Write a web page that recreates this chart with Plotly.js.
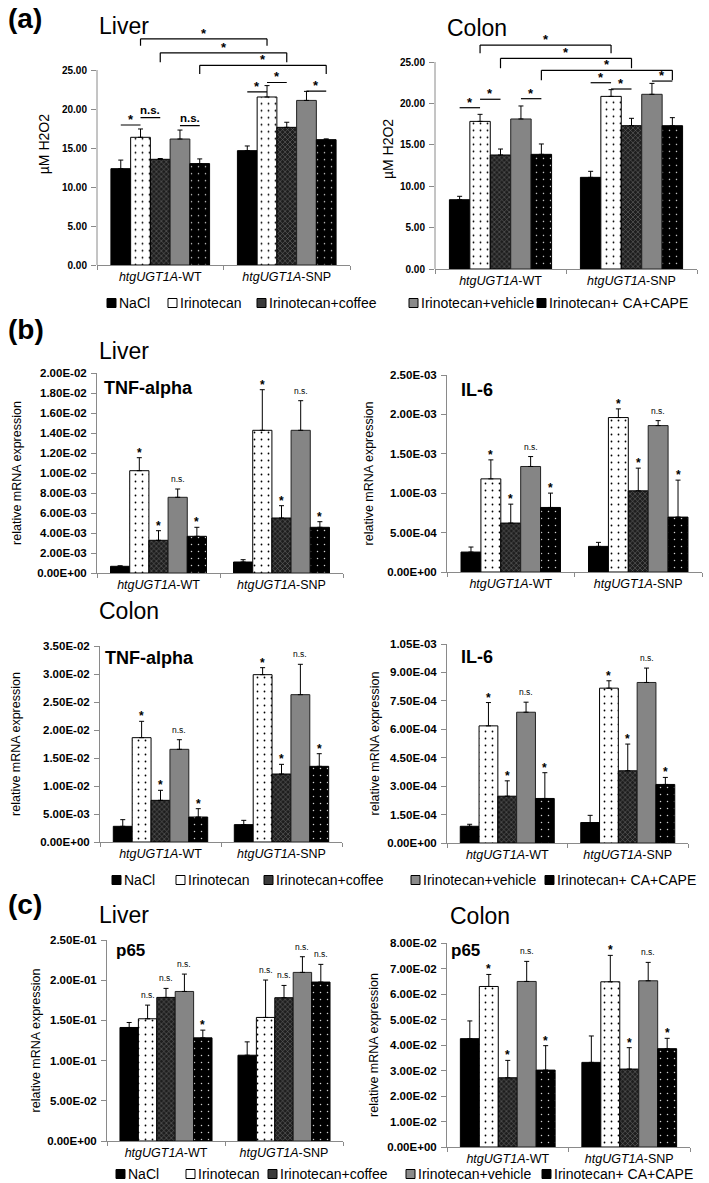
<!DOCTYPE html>
<html><head><meta charset="utf-8">
<script src="https://cdn.plot.ly/plotly-3.0.1.min.js"></script>
<style>body{margin:0;background:#fff}#chart{width:709px;height:1183px}</style>
</head><body><div id="chart"></div>
<script>
// ---------------- data ----------------
const groups = ['<i>htgUGT1A</i>-WT', '<i>htgUGT1A</i>-SNP'];
const treatments = ['NaCl', 'Irinotecan', 'Irinotecan+coffee', 'Irinotecan+vehicle', 'Irinotecan+ CA+CAPE'];

// (a) H2O2 (µM), per treatment: [WT, SNP]
const h2o2LiverMean = [[12.35, 14.66], [16.37, 21.54], [13.55, 17.65], [16.15, 21.10], [13.00, 16.07]];
const h2o2LiverErr  = [[1.10, 0.60], [1.07, 1.46], [0.10, 0.65], [1.15, 1.16], [0.60, 0.10]];
const h2o2ColonMean = [[8.37, 11.07], [17.83, 20.85], [13.77, 17.31], [18.12, 21.10], [13.85, 17.31]];
const h2o2ColonErr  = [[0.41, 0.73], [0.85, 0.81], [0.72, 0.89], [1.57, 1.32], [1.25, 0.97]];

// (b) relative mRNA expression
const tnfLiverMean = [[0.00067, 0.00110], [0.01023, 0.01427], [0.00327, 0.00550], [0.00757, 0.01427], [0.00367, 0.00457]];
const tnfLiverErr  = [[0.00005, 0.00023], [0.00130, 0.00406], [0.00096, 0.00123], [0.00083, 0.00296], [0.00090, 0.00056]];
const il6LiverMean = [[0.000253, 0.000325], [0.001182, 0.001960], [0.000621, 0.001030], [0.001339, 0.001858], [0.000819, 0.000697]];
const il6LiverErr  = [[0.000064, 0.000051], [0.000241, 0.000110], [0.000240, 0.000288], [0.000126, 0.000063], [0.000182, 0.000469]];
const tnfColonMean = [[0.00280, 0.00310], [0.01863, 0.02988], [0.00744, 0.01214], [0.01655, 0.02631], [0.00446, 0.01351]];
const tnfColonErr  = [[0.00119, 0.00077], [0.00292, 0.00125], [0.00179, 0.00173], [0.00172, 0.00542], [0.00149, 0.00226]];
const il6ColonMean = [[0.0000882, 0.000108], [0.000618, 0.000817], [0.000247, 0.000381], [0.000690, 0.000847], [0.000235, 0.000309]];
const il6ColonErr  = [[0.0000106, 0.000038], [0.000123, 0.000039], [0.000081, 0.000141], [0.000053, 0.000076], [0.000136, 0.000037]];

// (c) p65
const p65LiverMean = [[0.1412, 0.1067], [0.1520, 0.1537], [0.1786, 0.1782], [0.1860, 0.2097], [0.1283, 0.1977]];
const p65LiverErr  = [[0.0062, 0.0166], [0.0170, 0.0465], [0.0112, 0.0153], [0.0216, 0.0195], [0.0096, 0.0220]];
const p65ColonMean = [[0.04249, 0.03318], [0.06295, 0.06479], [0.02715, 0.03056], [0.06492, 0.06518], [0.03016, 0.03856]];
const p65ColonErr  = [[0.00695, 0.01036], [0.00472, 0.01036], [0.00682, 0.00839], [0.00787, 0.00722], [0.00958, 0.00406]];

// significance labels above bars, per treatment: [WT, SNP]
const sigCytokine = [['', ''], ['*', '*'], ['*', '*'], ['n.s.', 'n.s.'], ['*', '*']];
const sigP65Liver = [['', ''], ['n.s.', 'n.s.'], ['n.s.', 'n.s.'], ['n.s.', 'n.s.'], ['*', 'n.s.']];
const sigP65Colon = [['', ''], ['*', '*'], ['*', '*'], ['n.s.', 'n.s.'], ['*', '*']];

// tick values
const h2o2Ticks     = [0, 5, 10, 15, 20, 25];
const tnfLiverTicks = [0, 0.002, 0.004, 0.006, 0.008, 0.010, 0.012, 0.014, 0.016, 0.018, 0.020];
const il6LiverTicks = [0, 0.0005, 0.0010, 0.0015, 0.0020, 0.0025];
const tnfColonTicks = [0, 0.005, 0.010, 0.015, 0.020, 0.025, 0.030, 0.035];
const il6ColonTicks = [0, 0.00015, 0.00030, 0.00045, 0.00060, 0.00075, 0.00090, 0.00105];
const p65LiverTicks = [0, 0.05, 0.10, 0.15, 0.20, 0.25];
const p65ColonTicks = [0, 0.01, 0.02, 0.03, 0.04, 0.05, 0.06, 0.07, 0.08];

// pairwise comparisons in (a): [treatmentA, treatmentB, group, label]
const h2o2LiverPairs = [[0, 1, 0, '*'], [1, 2, 0, 'n.s.'], [3, 4, 0, 'n.s.'], [0, 1, 1, '*'], [1, 2, 1, '*'], [3, 4, 1, '*']];
const h2o2ColonPairs = [[0, 1, 0, '*'], [1, 2, 0, '*'], [3, 4, 0, '*'], [0, 1, 1, '*'], [1, 2, 1, '*'], [3, 4, 1, '*']];
// WT vs SNP comparisons in (a): treatment index
const h2o2Brackets = [1, 2, 4];

// ---------------- layout helpers ----------------
const FONT = 'Liberation Sans, Arial, Helvetica, sans-serif';
const W = 709, H = 1183;
const BARGAP = 0.22;
const BW = (1 - BARGAP) / 5;
const px = x => x / W;
const py = y => 1 - y / H;
const barX = (s, g) => g + (s - 2) * BW;

function sci(v) {
  if (v === 0) return '0.00E+00';
  const parts = v.toExponential(2).split('e');
  const e = parseInt(parts[1], 10);
  const d = Math.abs(e);
  return parts[0] + 'E' + (e < 0 ? '-' : '+') + (d < 10 ? '0' + d : d);
}

const styles = [
  {color: '#000000', line: '#000000', pattern: {shape: ''}},
  {color: '#ffffff', line: '#000000', pattern: {shape: '.', fgcolor: '#000000', bgcolor: '#ffffff', size: 7, solidity: 0.05}},
  {color: '#333333', line: '#000000', pattern: {shape: 'x', fgcolor: '#7c7c7c', bgcolor: '#1e1e1e', size: 3.5, solidity: 0.25}},
  {color: '#858585', line: '#222222', pattern: {shape: ''}},
  {color: '#000000', line: '#000000', pattern: {shape: '.', fgcolor: '#d0d0d0', bgcolor: '#000000', size: 7, solidity: 0.035}}
];
const legendFill = ['#000000', '#ffffff', '#3a3a3a', '#8a8a8a', '#000000'];

// box: [left, right, top, bottom] of plot area in px
const panels = [
  {mean: h2o2LiverMean, err: h2o2LiverErr, ticks: h2o2Ticks, sci: false, range: [0, 31], axisTop: 25, box: [97, 350, 23.2, 265],
   ytitle: 'µM H2O2', tfs: 14, standoff: 9, tickfs: 10, pairs: h2o2LiverPairs,
   pairLevels: [17.95, 18.9, 17.86, 22.2, 23.4, 22.3], brLevels: [[29.0, 0.9], [27.2, 1.2], [25.6, 1.1]]},
  {mean: h2o2ColonMean, err: h2o2ColonErr, ticks: h2o2Ticks, sci: false, range: [0, 29], axisTop: 25, box: [435, 697, 28.9, 269],
   ytitle: 'µM H2O2', tfs: 14, standoff: 3, tickfs: 10, pairs: h2o2ColonPairs,
   pairLevels: [19.48, 20.5, 20.57, 22.5, 21.74, 22.7], brLevels: [[27.05, 1.0], [25.45, 1.2], [24.0, 1.2]]},
  {mean: tnfLiverMean, err: tnfLiverErr, ticks: tnfLiverTicks, sci: true, box: [97, 343, 373, 573], sig: sigCytokine,
   ytitle: 'relative mRNA expression', tfs: 12.5, standoff: 12, tickfs: 11.5},
  {mean: il6LiverMean, err: il6LiverErr, ticks: il6LiverTicks, sci: true, box: [447, 702, 375, 572], sig: sigCytokine,
   ytitle: 'relative mRNA expression', tfs: 12.5, standoff: 10, tickfs: 11.5},
  {mean: tnfColonMean, err: tnfColonErr, ticks: tnfColonTicks, sci: true, box: [100, 342, 646, 842], sig: sigCytokine,
   ytitle: 'relative mRNA expression', tfs: 12.5, standoff: 16, tickfs: 11.5},
  {mean: il6ColonMean, err: il6ColonErr, ticks: il6ColonTicks, sci: true, box: [447, 688, 644, 843], sig: sigCytokine,
   ytitle: 'relative mRNA expression', tfs: 12.5, standoff: 4, tickfs: 11.5},
  {mean: p65LiverMean, err: p65LiverErr, ticks: p65LiverTicks, sci: true, box: [107, 343, 940, 1141], sig: sigP65Liver,
   ytitle: 'relative mRNA expression', tfs: 12.5, standoff: 3, tickfs: 11.5},
  {mean: p65ColonMean, err: p65ColonErr, ticks: p65ColonTicks, sci: true, box: [447, 690, 943, 1147], sig: sigP65Colon,
   ytitle: 'relative mRNA expression', tfs: 12.5, standoff: 5, tickfs: 11.5}
];

const traces = [];
const layout = {
  width: W, height: H, margin: {l: 0, r: 0, t: 0, b: 0},
  paper_bgcolor: '#ffffff', plot_bgcolor: 'rgba(0,0,0,0)',
  barmode: 'group', bargap: BARGAP, bargroupgap: 0, showlegend: false,
  font: {family: FONT, color: '#000'},
  shapes: [], annotations: []
};

panels.forEach((p, k) => {
  const id = k === 0 ? '' : String(k + 1);
  const xa = 'x' + id, ya = 'y' + id;
  const [L, R, T, B] = p.box;
  const range = p.range || [0, p.ticks[p.ticks.length - 1]];

  treatments.forEach((t, s) => {
    traces.push({
      type: 'bar', x: groups, y: p.mean[s], name: t, xaxis: xa, yaxis: ya,
      marker: {color: styles[s].color, line: {color: styles[s].line, width: 1}, pattern: styles[s].pattern},
      error_y: {type: 'data', symmetric: false, array: p.err[s], arrayminus: [0, 0], color: '#000', thickness: 1, width: 2.5},
      hoverinfo: 'skip'
    });
  });

  layout['xaxis' + id] = {
    domain: [px(L), px(R)], anchor: ya, type: 'category', showline: true, linecolor: '#8a8a8a', linewidth: 1,
    ticks: 'outside', tickson: 'boundaries', ticklen: 4, tickcolor: '#8a8a8a', showgrid: false, zeroline: false,
    tickfont: {family: FONT, size: 12.5, color: '#000'}, fixedrange: true
  };
  layout['yaxis' + id] = {
    domain: [py(B), py(T)], anchor: xa, range: range, tickvals: p.ticks,
    ticktext: p.ticks.map(v => p.sci ? sci(v) : v.toFixed(2)),
    ticks: 'outside', ticklen: 5, tickcolor: '#8a8a8a', tickwidth: 1,
    showline: !p.axisTop, linecolor: '#8a8a8a', linewidth: 1, showgrid: false, zeroline: false,
    tickfont: {family: FONT, size: p.tickfs, color: '#000', weight: 'bold'}, ticklabelstandoff: 2,
    title: {text: p.ytitle, font: {family: FONT, size: p.tfs, color: '#000'}, standoff: p.standoff},
    fixedrange: true
  };

  if (p.axisTop) {
    layout.shapes.push({type: 'line', xref: xa + ' domain', yref: ya, x0: 0, x1: 0, y0: 0, y1: p.axisTop,
      line: {color: '#8a8a8a', width: 1}});
  }

  const lineStyle = {color: '#000', width: 1.2};
  if (p.pairs) {
    p.pairs.forEach((pr, i) => {
      const [a, b, g, lab] = pr;
      const mid = (barX(a, g) + barX(b, g)) / 2;
      const lvl = p.pairLevels[i];
      layout.shapes.push({type: 'line', xref: xa, yref: ya, x0: mid - BW / 2, x1: mid + BW / 2, y0: lvl, y1: lvl, line: lineStyle});
      layout.annotations.push({xref: xa, yref: ya, x: mid, y: lvl, text: lab, showarrow: false, yanchor: 'bottom',
        yshift: lab === '*' ? -4 : 0, font: {family: FONT, size: lab === '*' ? 13 : 11.5, color: '#000', weight: 'bold'}});
    });
    h2o2Brackets.forEach((s, i) => {
      const [lvl, drop] = p.brLevels[i];
      const x0 = barX(s, 0), x1 = barX(s, 1);
      layout.shapes.push({type: 'line', xref: xa, yref: ya, x0: x0, x1: x1, y0: lvl, y1: lvl, line: lineStyle});
      layout.shapes.push({type: 'line', xref: xa, yref: ya, x0: x0, x1: x0, y0: lvl - drop, y1: lvl, line: lineStyle});
      layout.shapes.push({type: 'line', xref: xa, yref: ya, x0: x1, x1: x1, y0: lvl - drop, y1: lvl, line: lineStyle});
      layout.annotations.push({xref: xa, yref: ya, x: (x0 + x1) / 2, y: lvl, text: '*', showarrow: false, yanchor: 'bottom',
        yshift: -4, font: {family: FONT, size: 13, color: '#000', weight: 'bold'}});
    });
  }
  if (p.sig) {
    p.sig.forEach((row, s) => row.forEach((lab, g) => {
      if (!lab) return;
      layout.annotations.push({xref: xa, yref: ya, x: barX(s, g), y: p.mean[s][g] + p.err[s][g], text: lab,
        showarrow: false, yanchor: 'bottom', yshift: lab === '*' ? -4 : 3,
        font: {family: FONT, size: lab === '*' ? 12 : 8.5, color: '#000', weight: lab === '*' ? 'bold' : 'normal'}});
    }));
  }
});

// panel texts
const texts = [
  ['<b>(a)</b>', 6, 18, 28], ['<b>(b)</b>', 6, 330, 28], ['<b>(c)</b>', 6, 904, 28],
  ['Liver', 97, 26, 23], ['Colon', 445, 28, 23],
  ['Liver', 97, 351, 23], ['Colon', 97, 611, 23],
  ['Liver', 97, 915, 23], ['Colon', 448, 916, 23],
  ['<b>TNF-alpha</b>', 102, 388, 18], ['<b>IL-6</b>', 459, 390, 18],
  ['<b>TNF-alpha</b>', 103, 658, 18], ['<b>IL-6</b>', 459, 657, 18],
  ['<b>p65</b>', 114, 950, 17], ['<b>p65</b>', 449, 950, 17]
];
texts.forEach(([t, x, y, s]) => layout.annotations.push({xref: 'paper', yref: 'paper', x: px(x), y: py(y), text: t,
  showarrow: false, xanchor: 'left', yanchor: 'middle', font: {family: FONT, size: s, color: '#000'}}));

// legends (drawn three times, below each figure part)
const legendRows = [303, 880, 1174];
const legendXs = [[107, 168, 257, 409, 537], [112, 176, 264, 411, 545], [116, 186, 268, 406, 542]];
legendRows.forEach((ly, r) => {
  treatments.forEach((t, s) => {
    const lx = legendXs[r][s];
    layout.shapes.push({type: 'rect', xref: 'paper', yref: 'paper', x0: px(lx), x1: px(lx + 9), y0: py(ly + 4.5), y1: py(ly - 4.5),
      fillcolor: legendFill[s], line: {color: '#000', width: 1}});
    layout.annotations.push({xref: 'paper', yref: 'paper', x: px(lx + 10), y: py(ly), text: t, showarrow: false,
      xanchor: 'left', yanchor: 'middle', font: {family: FONT, size: 14, color: '#000'}});
  });
});

Plotly.newPlot('chart', traces, layout, {staticPlot: true, displayModeBar: false});
</script>
</body></html>
